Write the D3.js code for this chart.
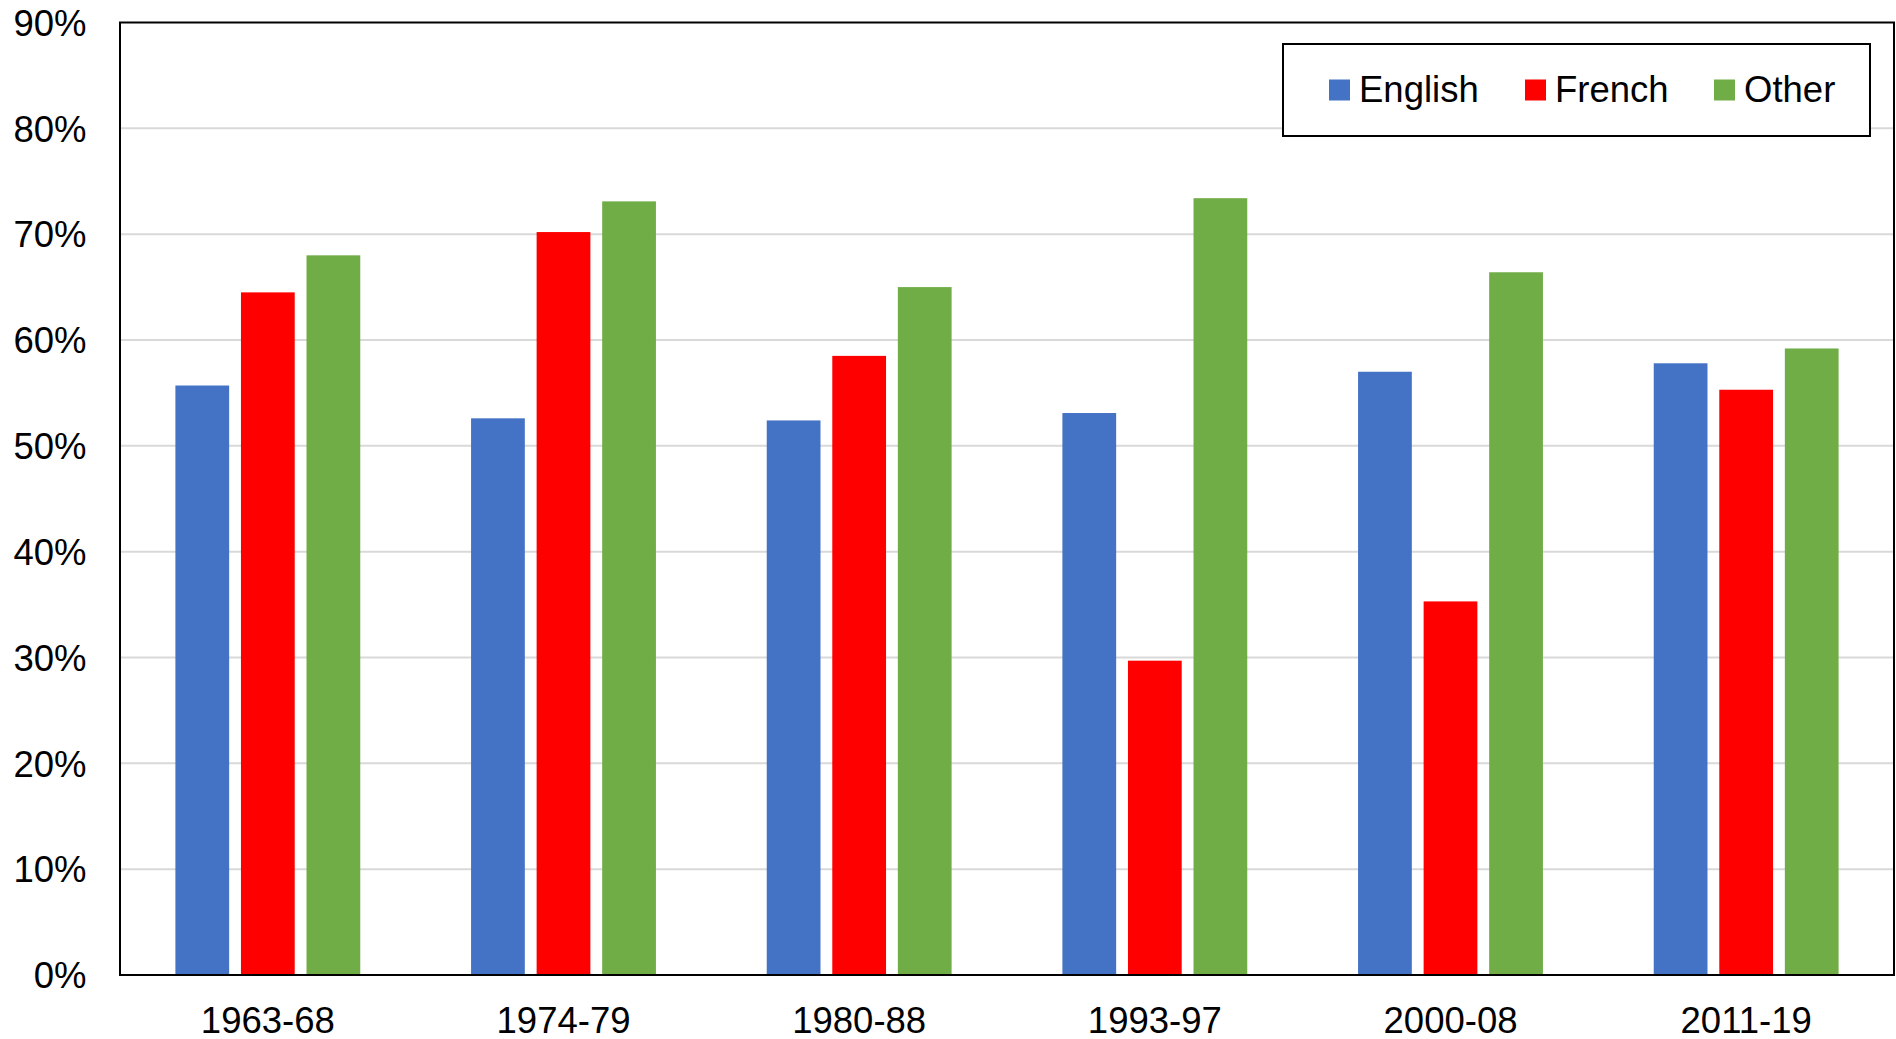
<!DOCTYPE html>
<html>
<head>
<meta charset="utf-8">
<script src="https://cdn.jsdelivr.net/npm/d3@7"></script>
<style>
  body { margin: 0; background: #fff; overflow: hidden; }
  svg { display: block; }
  text { font-family: "Liberation Sans", Arial, sans-serif; fill: #000; }
</style>
</head>
<body>
<div class="chart"></div>
<script>
// Data
var periods = ["1963-68", "1974-79", "1980-88", "1993-97", "2000-08", "2011-19"];
var seriesNames = ["English", "French", "Other"];
var english = [55.7, 52.6, 52.4, 53.1, 57.0, 57.8];
var french = [64.5, 70.2, 58.5, 29.7, 35.3, 55.3];
var other = [68.0, 73.1, 65.0, 73.4, 66.4, 59.2];
var colors = ["#4472c4", "#ff0000", "#70ad47"];
var yTicks = [0, 10, 20, 30, 40, 50, 60, 70, 80, 90];

var svgWidth = 1896;
var svgHeight = 1039;

var margin = { top: 22.5, right: 2, bottom: 64, left: 120 };
var width = svgWidth - margin.left - margin.right;
var height = svgHeight - margin.top - margin.bottom;

var svg = d3.select(".chart")
  .append("svg")
  .attr("width", svgWidth)
  .attr("height", svgHeight);

var chartGroup = svg.append("g")
  .attr("transform", `translate(${margin.left}, ${margin.top})`);

// Scales
var x0 = d3.scaleBand()
  .domain(periods)
  .range([0, width])
  .padding(0);

var x1 = d3.scaleBand()
  .domain(seriesNames)
  .range([0, x0.bandwidth()])
  .paddingInner(0.18)
  .paddingOuter(0.845);

var y = d3.scaleLinear()
  .domain([0, 90])
  .range([height, 0]);

// Gridlines
chartGroup.append("g")
  .selectAll("line")
  .data(yTicks.filter(d => d > 0 && d < 90))
  .enter()
  .append("line")
  .attr("x1", 0)
  .attr("x2", width)
  .attr("y1", d => y(d))
  .attr("y2", d => y(d))
  .attr("stroke", "#d9d9d9")
  .attr("stroke-width", 2);

// Bars
var table = periods.map(function(p, i) {
  return { period: p, values: [english[i], french[i], other[i]] };
});

var groups = chartGroup.selectAll(".grp")
  .data(table)
  .enter()
  .append("g")
  .attr("class", "grp")
  .attr("transform", d => `translate(${x0(d.period)}, 0)`);

groups.selectAll("rect")
  .data(d => d.values.map((v, j) => ({ name: seriesNames[j], value: v, color: colors[j] })))
  .enter()
  .append("rect")
  .attr("x", d => x1(d.name))
  .attr("width", x1.bandwidth())
  .attr("y", d => y(d.value))
  .attr("height", d => height - y(d.value))
  .attr("fill", d => d.color);

// Plot border
chartGroup.append("rect")
  .attr("x", 0)
  .attr("y", 0)
  .attr("width", width)
  .attr("height", height)
  .attr("fill", "none")
  .attr("stroke", "#000")
  .attr("stroke-width", 2);

// Y axis labels
var leftAxis = d3.axisLeft(y)
  .tickValues(yTicks)
  .tickFormat(d => d + "%")
  .tickSize(0)
  .tickPadding(33.5);

var yAxis = chartGroup.append("g").call(leftAxis);
yAxis.select(".domain").remove();
yAxis.selectAll("text")
  .attr("font-size", "36.5px")
  .attr("dy", "0.35em")
  .style("font-family", "'Liberation Sans', Arial, sans-serif")
  .attr("fill", "#000");

// X axis labels
var bottomAxis = d3.axisBottom(x0)
  .tickSize(0)
  .tickPadding(32);

var xAxis = chartGroup.append("g")
  .attr("transform", `translate(0, ${height})`)
  .call(bottomAxis);
xAxis.select(".domain").remove();
xAxis.selectAll("text")
  .attr("font-size", "36.5px")
  .style("font-family", "'Liberation Sans', Arial, sans-serif")
  .attr("fill", "#000");

// Legend
var legend = svg.append("g")
  .attr("transform", "translate(1283, 44)");

legend.append("rect")
  .attr("width", 587)
  .attr("height", 92)
  .attr("fill", "#fff")
  .attr("stroke", "#000")
  .attr("stroke-width", 2);

var legendX = [46, 242, 431];

var items = legend.selectAll(".item")
  .data(seriesNames)
  .enter()
  .append("g")
  .attr("class", "item")
  .attr("transform", (d, i) => `translate(${legendX[i]}, 0)`);

items.append("rect")
  .attr("y", 35.5)
  .attr("width", 21)
  .attr("height", 21)
  .attr("fill", (d, i) => colors[i]);

items.append("text")
  .attr("x", 30)
  .attr("y", 57.7)
  .attr("font-size", "36.5px")
  .text(d => d);
</script>
</body>
</html>
